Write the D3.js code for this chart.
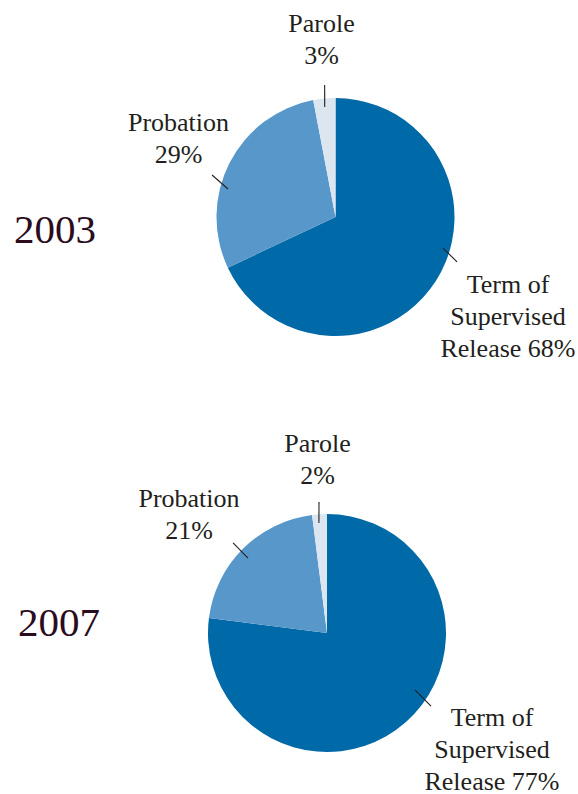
<!DOCTYPE html>
<html>
<head>
<meta charset="utf-8">
<script src="https://cdn.jsdelivr.net/npm/d3@7"></script>
<style>
  html, body { margin: 0; padding: 0; background: #ffffff; }
  svg { display: block; }
</style>
</head>
<body>
<svg id="chart" width="578" height="794"></svg>
<script>
// ---- data ----
const years = ["2003", "2007"];
const categories = ["Term of Supervised Release", "Probation", "Parole"];
const values2003 = [68, 29, 3];
const values2007 = [77, 21, 2];
const labelLines = [["Term of", "Supervised", "Release"], ["Probation"], ["Parole"]];
const percentOnLastLine = [true, false, false];

// ---- layout / style ----
const colors = ["#0069a7", "#5797c9", "#dce6f1"];
const fontFamily = "'Liberation Serif', 'Times New Roman', serif";
const labelSize = 26;
const lineH = 32;
const radius = 119;
const layout = [
  { cx: 335.5, cy: 217, yearX: 14, yearY: 243,
    labels: [ {x: 508, y: 292.7}, {x: 178.5, y: 131}, {x: 321.5, y: 32} ],
    // leader: [angleIn(deg), rIn, angleOut(deg), rOut]
    leaders: [ [106.1, 111.9, 110.3, 129.6], [-75.4, 111.1, -71.2, 130.4], [-5.6, 110.5, -4.7, 132.4] ] },
  { cx: 327, cy: 633, yearX: 18, yearY: 636,
    labels: [ {x: 492, y: 725.5}, {x: 189, y: 507.3}, {x: 317.5, y: 452} ],
    leaders: [ [122.9, 104.8, 125.1, 127.1], [-46.5, 108.9, -46.2, 130.1], [-4.2, 110.3, -3.5, 131.2] ] }
];

const seriesValues = [values2003, values2007];

const svg = d3.select("#chart");
const pie = d3.pie().sort(null).value(d => d);
const arc = d3.arc().innerRadius(0).outerRadius(radius);
const color = d3.scaleOrdinal().domain(categories).range(colors);

function polar(angleDeg, r) {
  const a = angleDeg * Math.PI / 180;
  return [Math.sin(a) * r, -Math.cos(a) * r];
}

years.forEach((yr, i) => {
  const L = layout[i];
  const vals = seriesValues[i];
  const g = svg.append("g").attr("transform", `translate(${L.cx},${L.cy})`);
  const arcs = pie(vals);
  g.selectAll("path.slice")
    .data(arcs)
    .join("path")
    .attr("class", "slice")
    .attr("d", arc)
    .attr("fill", (d, k) => color(categories[k]));

  // leader lines
  g.selectAll("line.leader")
    .data(L.leaders)
    .join("line")
    .attr("class", "leader")
    .attr("x1", d => polar(d[0], d[1])[0])
    .attr("y1", d => polar(d[0], d[1])[1])
    .attr("x2", d => polar(d[2], d[3])[0])
    .attr("y2", d => polar(d[2], d[3])[1])
    .attr("stroke", "#231f20")
    .attr("stroke-width", 1.1);

  // labels
  categories.forEach((c, k) => {
    const lines = labelLines[k].slice();
    const pct = vals[k] + "%";
    if (percentOnLastLine[k]) lines[lines.length - 1] += " " + pct;
    else lines.push(pct);
    const t = svg.append("text")
      .attr("x", L.labels[k].x)
      .attr("y", L.labels[k].y)
      .attr("text-anchor", "middle")
      .attr("font-family", fontFamily)
      .attr("font-size", labelSize)
      .attr("fill", "#231f20");
    lines.forEach((ln, j) => {
      t.append("tspan")
        .attr("x", L.labels[k].x)
        .attr("y", L.labels[k].y + j * lineH)
        .text(ln);
    });
  });

  // year
  svg.append("text")
    .attr("x", L.yearX)
    .attr("y", L.yearY)
    .attr("font-family", fontFamily)
    .attr("font-size", 41)
    .attr("fill", "#2b0c1d")
    .text(yr);
});
</script>
</body>
</html>
